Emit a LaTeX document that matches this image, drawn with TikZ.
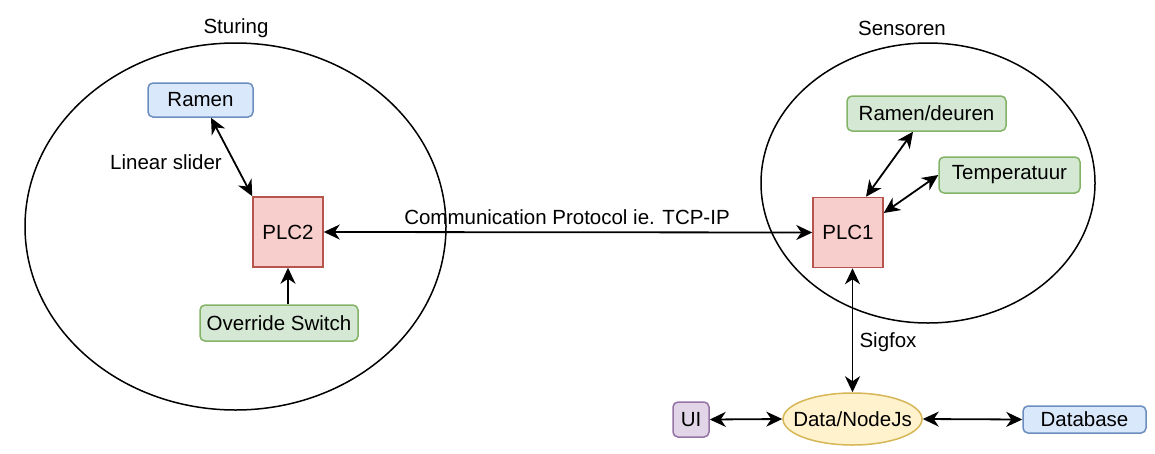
\documentclass[tikz,border=0pt]{standalone}
\usepackage{fontspec}
\setmainfont{Liberation Sans}
\usetikzlibrary{arrows.meta,shapes.geometric,calc}
\definecolor{bluefill}{HTML}{DAE8FC}\definecolor{bluedraw}{HTML}{6C8EBF}
\definecolor{redfill}{HTML}{F8CECC}\definecolor{reddraw}{HTML}{B85450}
\definecolor{greenfill}{HTML}{D5E8D4}\definecolor{greendraw}{HTML}{82B366}
\definecolor{yellowfill}{HTML}{FFF2CC}\definecolor{yellowdraw}{HTML}{D6B656}
\definecolor{purplefill}{HTML}{E1D5E7}\definecolor{purpledraw}{HTML}{9673A6}
\tikzset{
  txt/.style={font=\fontsize{20.5}{24}\selectfont, inner sep=0pt},
  rbox/.style={txt, draw, rounded corners=5pt, line width=1.5pt},
  bluebox/.style={rbox, fill=bluefill, draw=bluedraw},
  greenbox/.style={rbox, fill=greenfill, draw=greendraw},
  purplebox/.style={rbox, fill=purplefill, draw=purpledraw},
  plcbox/.style={txt, draw=reddraw, fill=redfill, line width=1.5pt, minimum width=70pt, minimum height=70pt},
  group/.style={draw, ellipse, line width=1.5pt, inner sep=0pt},
  conn/.style={line width=1.8pt, {Stealth[length=16pt,width=15pt,inset=5pt]}-{Stealth[length=16pt,width=15pt,inset=5pt]}},
  connone/.style={line width=1.8pt, -{Stealth[length=16pt,width=15pt,inset=5pt]}},
}
\begin{document}
\begin{tikzpicture}[x=1pt,y=-1pt]
\useasboundingbox (0,0) rectangle (1155,453);
% groups
\node[group, minimum width=421pt, minimum height=367pt] (sturing) at (235.5,226.5) {};
\node[group, minimum width=334pt, minimum height=280pt] (sensoren) at (928,183) {};
\node[txt] (sturinglbl) at (236,28) {Sturing};
\node[txt] (sensorenlbl) at (902,28) {Sensoren};
% nodes
\node[bluebox, minimum width=105pt, minimum height=34pt] (ramen) at (200.5,100) {Ramen};
\node[plcbox] (plc2) at (288,232) {PLC2};
\node[greenbox, minimum width=158pt, minimum height=36pt] (override) at (279,323) {Override Switch};
\node[plcbox] (plc1) at (848,232.5) {PLC1};
\node[greenbox, minimum width=159pt, minimum height=35pt] (ramendeuren) at (926.5,113.5) {Ramen/deuren};
\node[greenbox, minimum width=141pt, minimum height=36pt] (temp) at (1009.5,175) {Temperatuur};
\node[draw=yellowdraw, fill=yellowfill, ellipse, line width=1.5pt, inner sep=0pt, minimum width=139pt, minimum height=52pt] (data) at (852.5,419) {};
\node[txt] (datalbl) at (data.center) {Data/NodeJs};
\node[purplebox, minimum width=36pt, minimum height=35pt] (ui) at (691,419.5) {UI};
\node[bluebox, minimum width=123pt, minimum height=27pt] (db) at (1084.5,419.5) {Database};
% labels
\node[txt] (linlbl) at (166,162) {Linear slider};
\node[txt] (commlbl) at (567,217) {Communication Protocol ie. TCP-IP};
\node[txt] (siglbl) at (888,342) {Sigfox};
% connectors
\draw[conn] ([xshift=10.5pt]ramen.south) -- (plc2.north west);
\draw[connone] (override.north -| plc2.south) -- (plc2.south);
\draw[conn] (plc2.east) -- (plc1.west);
\draw[conn] ([xshift=18pt]plc1.north) -- ([xshift=-13.5pt]ramendeuren.south);
\draw[conn] ([yshift=19.5pt]plc1.east) -- (temp.west);
\draw[conn] (plc1.south -| data.north) -- (data.north);
\draw[conn] (ui.east) -- (data.west);
\draw[conn] (data.east) -- (db.west);
\end{tikzpicture}
\end{document}
